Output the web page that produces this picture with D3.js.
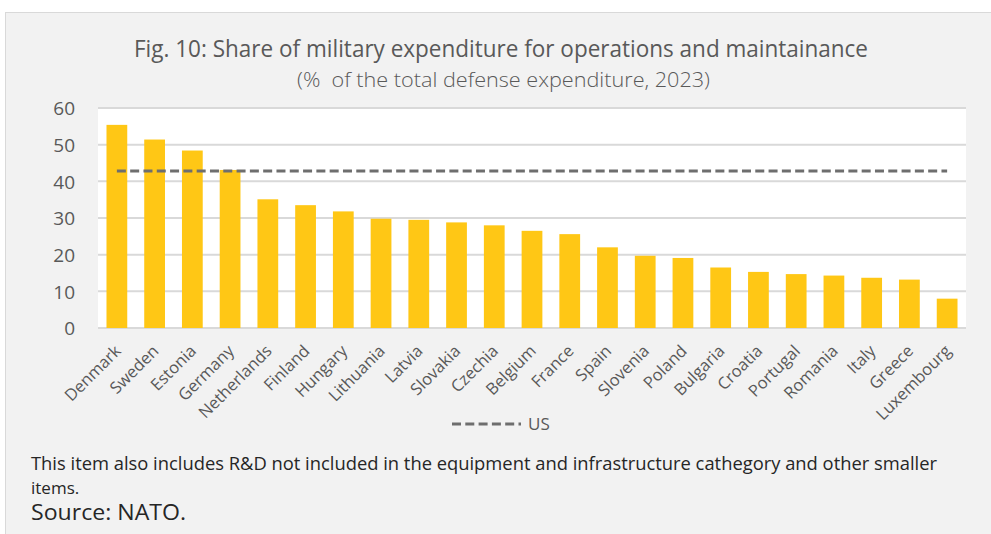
<!DOCTYPE html>
<html>
<head>
<meta charset="utf-8">
<script src="https://cdn.jsdelivr.net/npm/d3@7"></script>
<style>
  html, body { margin: 0; padding: 0; background: #ffffff; }
  svg { display: block; }
</style>
</head>
<body>
<svg id="chart" width="991" height="534"></svg>
<script>
// Operations & maintenance share of total defence expenditure, 2023
const countries = ["Denmark", "Sweden", "Estonia", "Germany", "Netherlands", "Finland",
  "Hungary", "Lithuania", "Latvia", "Slovakia", "Czechia", "Belgium", "France", "Spain",
  "Slovenia", "Poland", "Bulgaria", "Croatia", "Portugal", "Romania", "Italy", "Greece",
  "Luxembourg"];
const shares = [55.4, 51.4, 48.4, 43.1, 35.1, 33.5, 31.8, 29.8, 29.5, 28.8, 28.0, 26.5,
  25.6, 22.0, 19.7, 19.1, 16.5, 15.3, 14.7, 14.3, 13.7, 13.2, 8.0];
const usShare = 42.8;
const yTicks = [0, 10, 20, 30, 40, 50, 60];
const titleText = "Fig. 10: Share of military expenditure for operations and maintainance";
const subtitleText = "(%  of the total defense expenditure, 2023)";
const noteLines = [
  "This item also includes R&D not included in the equipment and infrastructure cathegory and other smaller",
  "items."
];
const sourceText = "Source: NATO.";
const legendLabel = "US";

const svg = d3.select("#chart");
const W = 991, H = 534;
const plot = { left: 98, right: 966, top: 108, bottom: 328 };

// chart frame
svg.append("rect").attr("x", 5.5).attr("y", 12.5).attr("width", W + 20).attr("height", H + 20)
  .attr("fill", "#f2f2f2").attr("stroke", "#d9d9d9").attr("stroke-width", 1);

// plot area
svg.append("rect").attr("x", plot.left).attr("y", plot.top)
  .attr("width", plot.right - plot.left).attr("height", plot.bottom - plot.top)
  .attr("fill", "#ffffff");

const x = d3.scaleBand().domain(countries).range([plot.left, plot.right])
  .paddingInner(0.45).paddingOuter(0.225);
const y = d3.scaleLinear().domain([0, 60]).range([plot.bottom, plot.top]);

// gridlines
svg.append("g").selectAll("line").data(yTicks).join("line")
  .attr("x1", plot.left).attr("x2", plot.right)
  .attr("y1", d => y(d)).attr("y2", d => y(d))
  .attr("stroke", "#d9d9d9").attr("stroke-width", 2);

// y axis labels
const yAxis = d3.axisLeft(y).tickValues(yTicks).tickSize(0).tickPadding(0);
const yg = svg.append("g").attr("transform", `translate(${plot.left - 23},0)`).call(yAxis);
yg.select(".domain").remove();
yg.selectAll("text").attr("font-family", "'Open Sans', sans-serif").attr("font-size", 19)
  .attr("fill", "#595959").attr("dy", "0.36em");

// bars
svg.append("g").selectAll("rect").data(countries).join("rect")
  .attr("x", d => x(d)).attr("width", x.bandwidth())
  .attr("y", (d, i) => y(shares[i]))
  .attr("height", (d, i) => y(0) - y(shares[i]))
  .attr("fill", "#ffc715");

// US reference line
const usLine = d3.line().x(d => x(d) + x.bandwidth() / 2).y(() => y(usShare));
svg.append("path").datum(countries).attr("d", usLine)
  .attr("fill", "none").attr("stroke", "#6e6e6e").attr("stroke-width", 3)
  .attr("stroke-dasharray", "9,4.3");

// x axis labels, rotated
const xAxis = d3.axisBottom(x).tickSize(0).tickPadding(0);
const xg = svg.append("g").attr("transform", `translate(0,${plot.bottom})`).call(xAxis);
xg.select(".domain").remove();
xg.selectAll("text")
  .attr("font-family", "'Open Sans', sans-serif").attr("font-size", 16.5).attr("fill", "#595959")
  .attr("text-anchor", "end").attr("y", 0).attr("dy", 0)
  .attr("transform", "translate(5,24) rotate(-45)");

// legend
const lg = svg.append("g");
lg.append("line").attr("x1", 452).attr("x2", 521).attr("y1", 424).attr("y2", 424)
  .attr("stroke", "#6e6e6e").attr("stroke-width", 3).attr("stroke-dasharray", "9,4.3");
lg.append("text").attr("x", 528).attr("y", 424).attr("dy", "0.36em")
  .attr("font-family", "'Open Sans', sans-serif").attr("font-size", 17).attr("fill", "#595959")
  .text(legendLabel);

// titles
svg.append("text").attr("x", 134).attr("y", 57)
  .attr("font-family", "'Open Sans', sans-serif").attr("font-size", 23).attr("fill", "#595959")
  .attr("textLength", 734).attr("lengthAdjust", "spacingAndGlyphs")
  .text(titleText);
svg.append("text").attr("x", 297).attr("y", 87)
  .attr("font-family", "'Open Sans', sans-serif").attr("font-weight", 300).attr("font-size", 20)
  .attr("fill", "#595959").style("white-space", "pre")
  .attr("textLength", 413).attr("lengthAdjust", "spacingAndGlyphs")
  .text(subtitleText);

// notes
svg.append("text").attr("x", 31).attr("y", 470)
  .attr("font-family", "'Open Sans', sans-serif").attr("font-size", 18).attr("fill", "#262626")
  .attr("textLength", 906).attr("lengthAdjust", "spacingAndGlyphs")
  .text(noteLines[0]);
svg.append("text").attr("x", 31).attr("y", 494)
  .attr("font-family", "'Open Sans', sans-serif").attr("font-size", 17).attr("fill", "#262626")
  .text(noteLines[1]);
svg.append("text").attr("x", 31).attr("y", 520)
  .attr("font-family", "'Open Sans', sans-serif").attr("font-size", 21.5).attr("fill", "#262626")
  .attr("textLength", 155).attr("lengthAdjust", "spacingAndGlyphs")
  .text(sourceText);
</script>
</body>
</html>
